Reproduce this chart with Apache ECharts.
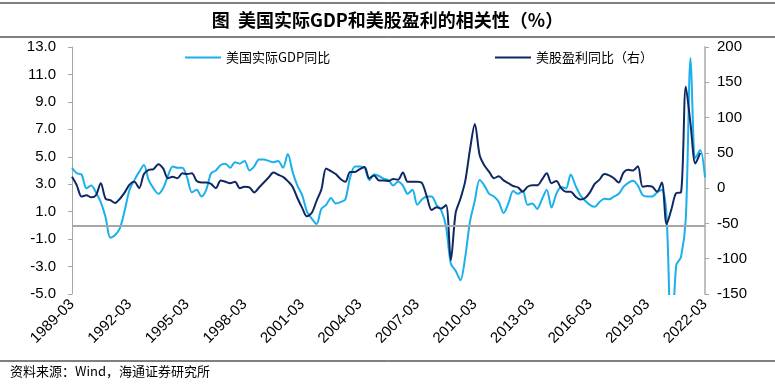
<!DOCTYPE html>
<html><head><meta charset="utf-8">
<script src="https://cdn.jsdelivr.net/npm/echarts@6/dist/echarts.min.js"></script>
<style>html,body{margin:0;padding:0;background:#fff}#c{width:775px;height:390px}</style>
</head><body><div id="c"></div>
<script>
var startYear = 1989;
var nQuarters = 133;
var categories = [];
for (var k = 0; k < nQuarters; k++) {
  var y = startYear + Math.floor(k / 4);
  var m = ['03','06','09','12'][k % 4];
  categories.push(y + '-' + m);
}
var gdpYoY = [
  4.2, 3.8, 3.7, 2.7,
  2.9, 2.4, 1.7, 0.6,
  -0.9, -0.7, -0.2, 1.1,
  2.6, 3.3, 3.9, 4.4,
  3.3, 2.7, 2.3, 2.7,
  3.6, 4.3, 4.2, 4.2,
  3.5, 2.4, 2.6, 2.1,
  2.6, 3.8, 4.0, 4.4,
  4.5, 4.2, 4.6, 4.5,
  4.7, 4.0, 4.3, 4.8,
  4.8, 4.7, 4.6, 4.7,
  4.2, 5.2, 3.9, 2.9,
  2.2, 1.0, 0.5, 0.1,
  1.2, 1.5, 2.0, 1.6,
  1.7, 1.9, 3.5, 4.3,
  4.3, 4.2, 3.3, 3.7,
  3.6, 3.4, 3.3, 2.9,
  3.2, 2.9, 2.3, 2.6,
  1.5, 1.9, 2.1, 2.1,
  1.5, 1.1, -0.1, -2.8,
  -3.3, -4.0, -2.3, 0.3,
  1.8, 3.3, 2.9, 2.3,
  2.1, 1.7, 0.9, 1.6,
  2.5, 2.3, 2.5, 1.5,
  1.6, 1.2, 1.9, 2.6,
  1.3, 2.3, 2.8, 2.7,
  3.7, 2.9, 2.2, 1.8,
  1.5, 1.35, 1.7, 1.95,
  1.9, 2.1, 2.3, 2.8,
  3.1, 3.25, 2.9, 2.2,
  2.1, 2.1, 2.4, 2.6,
  0.6, -9.1, -2.9, -2.3,
  0.5, 12.2, 4.9, 5.5,
  3.5
];
var epsYoY = [
  16, 4, -12, -10,
  -13, -10, 7, -15,
  -17, -21, -15, -6,
  5, 9, 0, 20,
  26, 27, 34, 28,
  14, 16, 14, 21,
  20, 21, 10, 8,
  8, 6, 0, 11,
  9, 7, 9, 0,
  2, 1, -6, 1,
  8, 15, 22, 19,
  16, 10, 2, -14,
  -28, -40, -35, -18,
  -2, 28, 24, 20,
  13, 9, 23, 23,
  27, 30, 14, 18,
  11, 11, 10, 13,
  12, 22, 9, 9,
  9, 7, -12, -31,
  -27, -29, -24, -102,
  -35, -15, 10, 55,
  91, 47, 32, 23,
  14, 17, 11, 7,
  3, 1, -5, 2,
  4, 4, 12, 21,
  7, 10, 0, -5,
  -5, -12, -16, -14,
  -6, 6, 12, 20,
  18, 14, 8, 22,
  26, 25, 31, 2,
  3, 2, -5, 8,
  -51, -30, -7, -6,
  144, 90, 35, 50,
  null
];
var leftTicks = { min: -5, max: 13, step: 2 };
var rightTicks = { min: -150, max: 200, step: 50 };
var seriesNames = ['美国实际GDP同比', '美股盈利同比（右）'];
var titleText = '图  美国实际GDP和美股盈利的相关性（%）';
var sourceText = '资料来源：Wind，海通证券研究所';

var numFont = '"Liberation Sans", Arial, sans-serif';
var cjkFont = '"Noto Sans CJK SC", sans-serif';
var chart = echarts.init(document.getElementById('c'), null, { renderer: 'canvas' });
chart.setOption({
  animation: false,
  backgroundColor: '#ffffff',
  title: {
    text: titleText, left: 'center', top: 6,
    textStyle: { fontFamily: cjkFont, fontSize: 18, fontWeight: 'bold', color: '#000' }
  },
  graphic: [
    { type: 'line', shape: { x1: 0, y1: 3, x2: 775, y2: 3 }, style: { stroke: '#000', lineWidth: 1 } },
    { type: 'line', shape: { x1: 0, y1: 37, x2: 775, y2: 37 }, style: { stroke: '#000', lineWidth: 1 } },
    { type: 'line', shape: { x1: 0, y1: 361, x2: 775, y2: 361 }, style: { stroke: '#000', lineWidth: 1 } },
    { type: 'text', left: 10, top: 365, style: { text: sourceText, font: '13px ' + cjkFont, fill: '#000' } }
  ],
  legend: [
    { data: [seriesNames[0]], left: 180, top: 46, icon: 'rect', itemWidth: 36, itemHeight: 2, itemGap: 4,
      textStyle: { fontFamily: cjkFont, fontSize: 13, color: '#000' } },
    { data: [seriesNames[1]], left: 490, top: 46, icon: 'rect', itemWidth: 36, itemHeight: 2, itemGap: 4,
      textStyle: { fontFamily: cjkFont, fontSize: 13, color: '#000' } }
  ],
  grid: { left: 72, right: 70, top: 47, bottom: 96, containLabel: false },
  xAxis: {
    type: 'category', data: categories, boundaryGap: false,
    axisLine: { show: false }, axisTick: { show: false },
    axisLabel: {
      interval: 11, rotate: 45, fontFamily: numFont, fontSize: 15, color: '#000', margin: 8
    },
    splitLine: { show: false }
  },
  yAxis: [
    {
      type: 'value', min: leftTicks.min, max: leftTicks.max, interval: leftTicks.step,
      position: 'left',
      axisLine: { show: true, lineStyle: { color: '#A6A6A6', width: 1 } },
      axisTick: { show: true, inside: false, length: 4, lineStyle: { color: '#A6A6A6' } },
      axisLabel: { formatter: function (v) { return v.toFixed(1); }, fontFamily: numFont, fontSize: 15, color: '#000', margin: 16 },
      splitLine: { show: false }
    },
    {
      type: 'value', min: rightTicks.min, max: rightTicks.max, interval: rightTicks.step,
      position: 'right',
      axisLine: { show: true, lineStyle: { color: '#BFBFBF', width: 2 } },
      axisTick: { show: true, inside: false, length: 4, lineStyle: { color: '#A6A6A6' } },
      axisLabel: { fontFamily: numFont, fontSize: 15, color: '#000', margin: 12 },
      splitLine: { show: false }
    }
  ],
  series: [
    {
      name: seriesNames[0], type: 'line', yAxisIndex: 0, data: gdpYoY,
      smooth: 0.3, showSymbol: false, symbol: 'none',
      lineStyle: { color: '#1AB0EC', width: 2 }, itemStyle: { color: '#1AB0EC' },
      markLine: {
        silent: true, symbol: 'none', label: { show: false },
        lineStyle: { color: '#A6A6A6', width: 2, type: 'solid' },
        data: [{ yAxis: 0 }]
      },
      z: 2
    },
    {
      name: seriesNames[1], type: 'line', yAxisIndex: 1, data: epsYoY,
      smooth: 0.3, showSymbol: false, symbol: 'none', connectNulls: false,
      lineStyle: { color: '#0F2864', width: 2 }, itemStyle: { color: '#0F2864' },
      z: 3
    }
  ]
});
</script></body></html>
